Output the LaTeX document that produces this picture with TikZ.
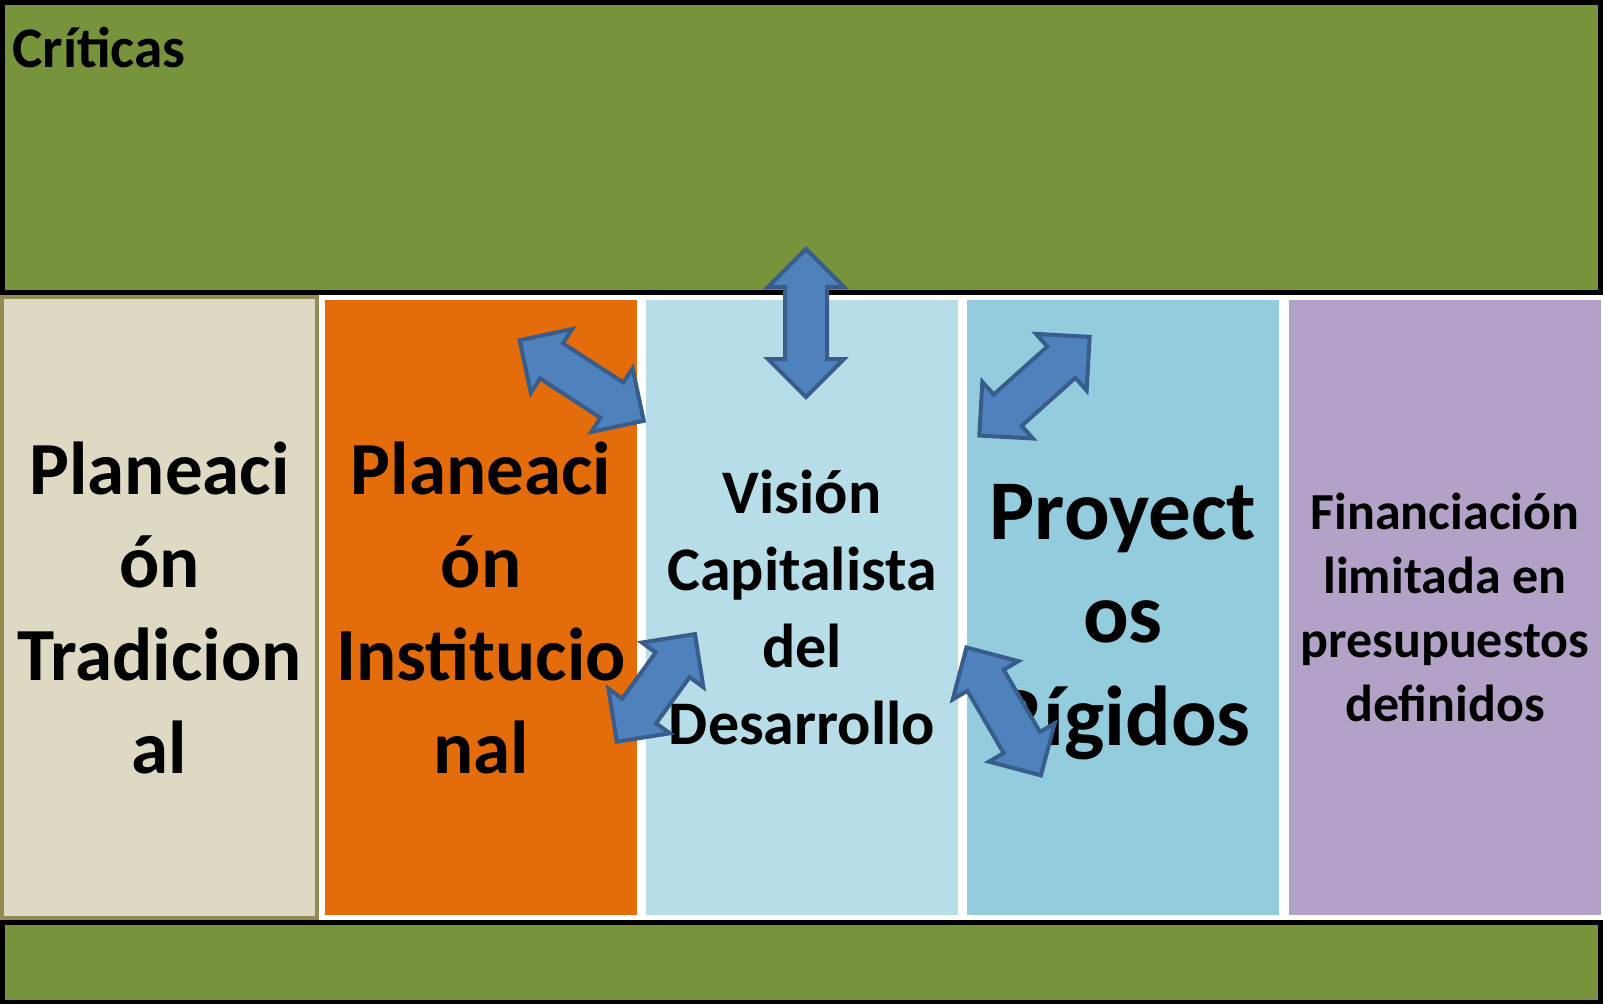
\documentclass[tikz,border=0pt]{standalone}
\usepackage{fontspec}
\setmainfont{Carlito}
\usetikzlibrary{shapes.arrows}

\definecolor{verdeOliva}{HTML}{77933C}
\definecolor{beige}{HTML}{DDD9C3}
\definecolor{bordeBeige}{HTML}{948A54}
\definecolor{naranja}{HTML}{E46C0A}
\definecolor{celeste}{HTML}{B7DDE8}
\definecolor{turquesa}{HTML}{93CDDD}
\definecolor{lila}{HTML}{B2A2C7}
\definecolor{azulFlecha}{HTML}{4F81BD}
\definecolor{bordeFlecha}{HTML}{385D8A}

\begin{document}
\begin{tikzpicture}[x=0.5pt,y=-0.5pt,
	franja/.style={draw=black,line width=2.5pt,fill=verdeOliva},
	columna/.style={minimum width=156pt,minimum height=307.5pt,inner sep=0pt,align=center},
	flecha/.style={double arrow,draw=bordeFlecha,fill=azulFlecha,line width=2pt,inner xsep=0pt,inner ysep=9.5pt,
		minimum height=74pt,double arrow head extend=8.5pt}]
	\useasboundingbox (0,0) rectangle (1603,1003);
	% franjas verdes
	\draw[franja] (2.5,2.5) rectangle (1600.5,292.5);
	\draw[franja] (2.5,922.5) rectangle (1600.5,1002);
	\node[anchor=base west,inner sep=0pt,font=\bfseries\fontsize{28.7}{34}\selectfont] (criticas) at (12,67) {Críticas};
	% columnas
	\node[columna,draw=bordeBeige,line width=2pt,fill=beige,minimum width=157.5pt,minimum height=310.5pt,
		font=\bfseries\fontsize{37.5}{46.5}\selectfont] (tradicional) at (159.5,607.5) {Planeaci\\ón\\Tradicion\\al};
	\node[columna,fill=naranja,font=\bfseries\fontsize{37.5}{46.5}\selectfont] (institucional) at (481,607.5) {Planeaci\\ón\\Institucio\\nal};
	\node[columna,fill=celeste,font=\bfseries\fontsize{31}{38.5}\selectfont] (vision) at (802,607.5) {Visión\\Capitalista\\del\\Desarrollo};
	\node[columna,fill=turquesa] (proyectos) at (1123,607.5) {};
	\node[align=center,inner sep=0pt,font=\bfseries\fontsize{42.5}{51.5}\selectfont] (proyectosTexto)
		at ([yshift=-7.5pt]proyectos.center) {Proyect\\os\\Rígidos};
	\node[columna,fill=lila,font=\bfseries\fontsize{26}{32}\selectfont] (financiacion) at (1445,607.5) {Financiación\\limitada en\\presupuestos\\definidos};
	% flechas
	\node[flecha,rotate=90] (fl1) at (806,323) {};
	\node[flecha,rotate=-33] (fl2) at (581.7,380.5) {};
	\node[flecha,rotate=41.8] (fl3) at (1034.5,386.2) {};
	\node[flecha,rotate=54,minimum height=66.5pt] (fl4) at (655.9,687.9) {};
	\node[flecha,rotate=-59.8] (fl5) at (1003.7,711.4) {};
\end{tikzpicture}
\end{document}
